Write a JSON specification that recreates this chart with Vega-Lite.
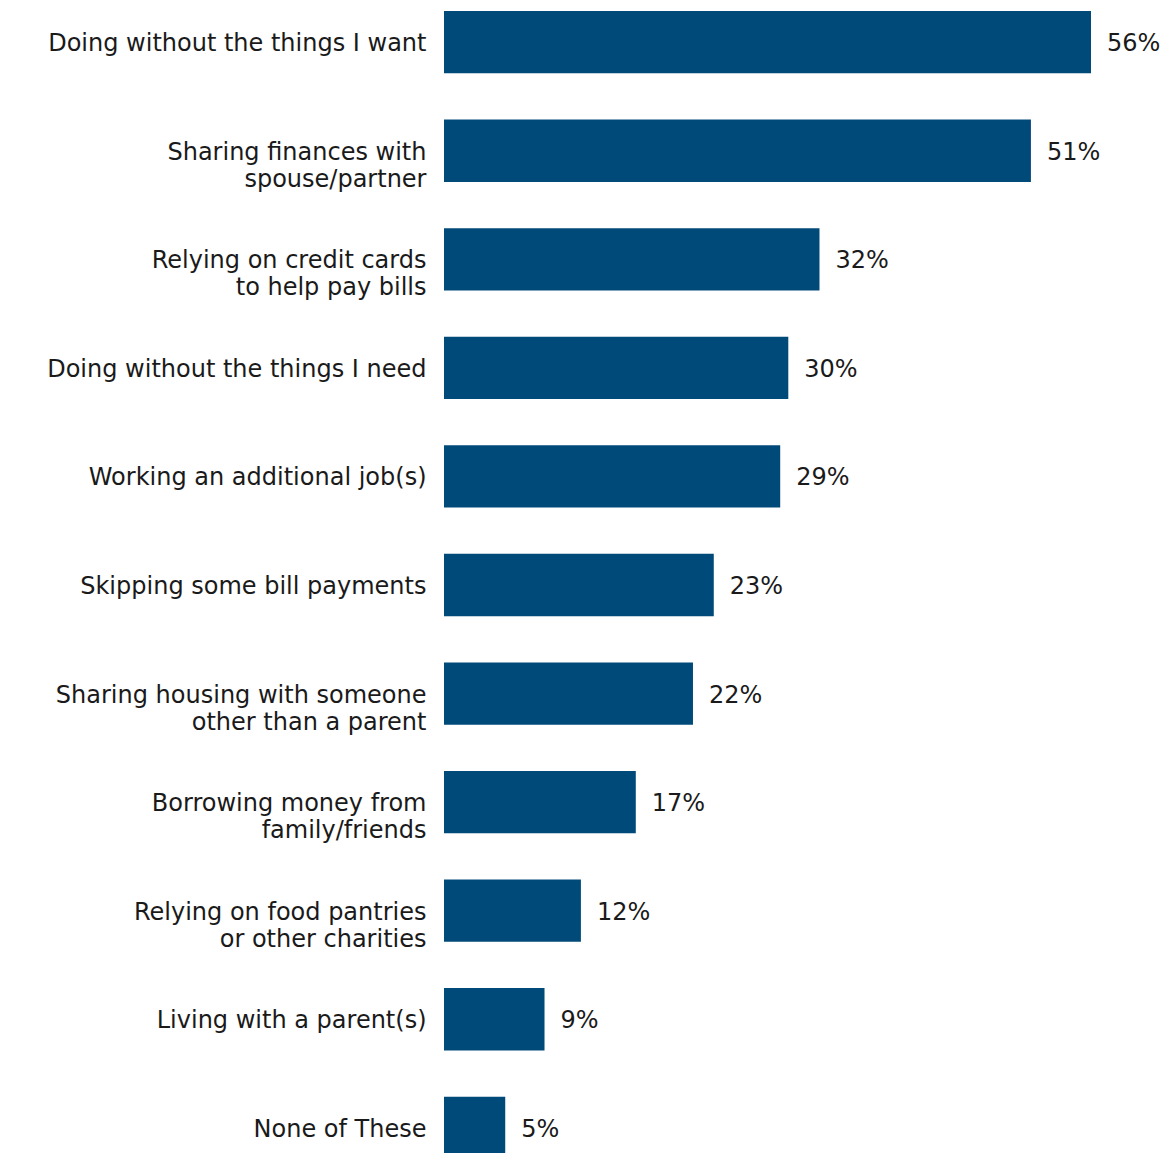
{
  "$schema": "https://vega.github.io/schema/vega-lite/v6.json",
  "autosize": "none",
  "padding": {"left": 444, "top": 11, "right": 78, "bottom": 0},
  "width": 647,
  "height": 1148,
  "background": "white",
  "config": {"view": {"stroke": null}, "font": "DejaVu Sans"},
  "data": {"values": [
    {"category": "Doing without the things I want", "value": 56, "label": "56%"},
    {"category": "Sharing finances with|spouse/partner", "value": 50.8, "label": "51%"},
    {"category": "Relying on credit cards|to help pay bills", "value": 32.5, "label": "32%"},
    {"category": "Doing without the things I need", "value": 29.8, "label": "30%"},
    {"category": "Working an additional job(s)", "value": 29.1, "label": "29%"},
    {"category": "Skipping some bill payments", "value": 23.35, "label": "23%"},
    {"category": "Sharing housing with someone|other than a parent", "value": 21.55, "label": "22%"},
    {"category": "Borrowing money from|family/friends", "value": 16.6, "label": "17%"},
    {"category": "Relying on food pantries|or other charities", "value": 11.85, "label": "12%"},
    {"category": "Living with a parent(s)", "value": 8.7, "label": "9%"},
    {"category": "None of These", "value": 5.3, "label": "5%"}
  ]},
  "encoding": {
    "y": {
      "field": "category", "type": "nominal", "sort": null,
      "scale": {"paddingInner": 0.426, "paddingOuter": 0},
      "axis": {
        "title": null, "ticks": false, "domain": false, "labelPadding": 18,
        "labelFontSize": 24, "labelColor": "#1a1a1a", "labelLimit": 0,
        "labelExpr": "split(datum.label, '|')", "labelLineHeight": 27,
        "labelFont": "DejaVu Sans", "labelOffset": 2
      }
    },
    "x": {
      "field": "value", "type": "quantitative",
      "scale": {"domain": [0, 56], "nice": false},
      "axis": null
    }
  },
  "layer": [
    {"mark": {"type": "bar", "color": "#004a7a"}},
    {"mark": {"type": "text", "align": "left", "baseline": "middle", "dx": 16, "dy": 2, "fontSize": 24, "color": "#1a1a1a", "font": "DejaVu Sans"},
     "encoding": {"text": {"field": "label"}}}
  ]
}
